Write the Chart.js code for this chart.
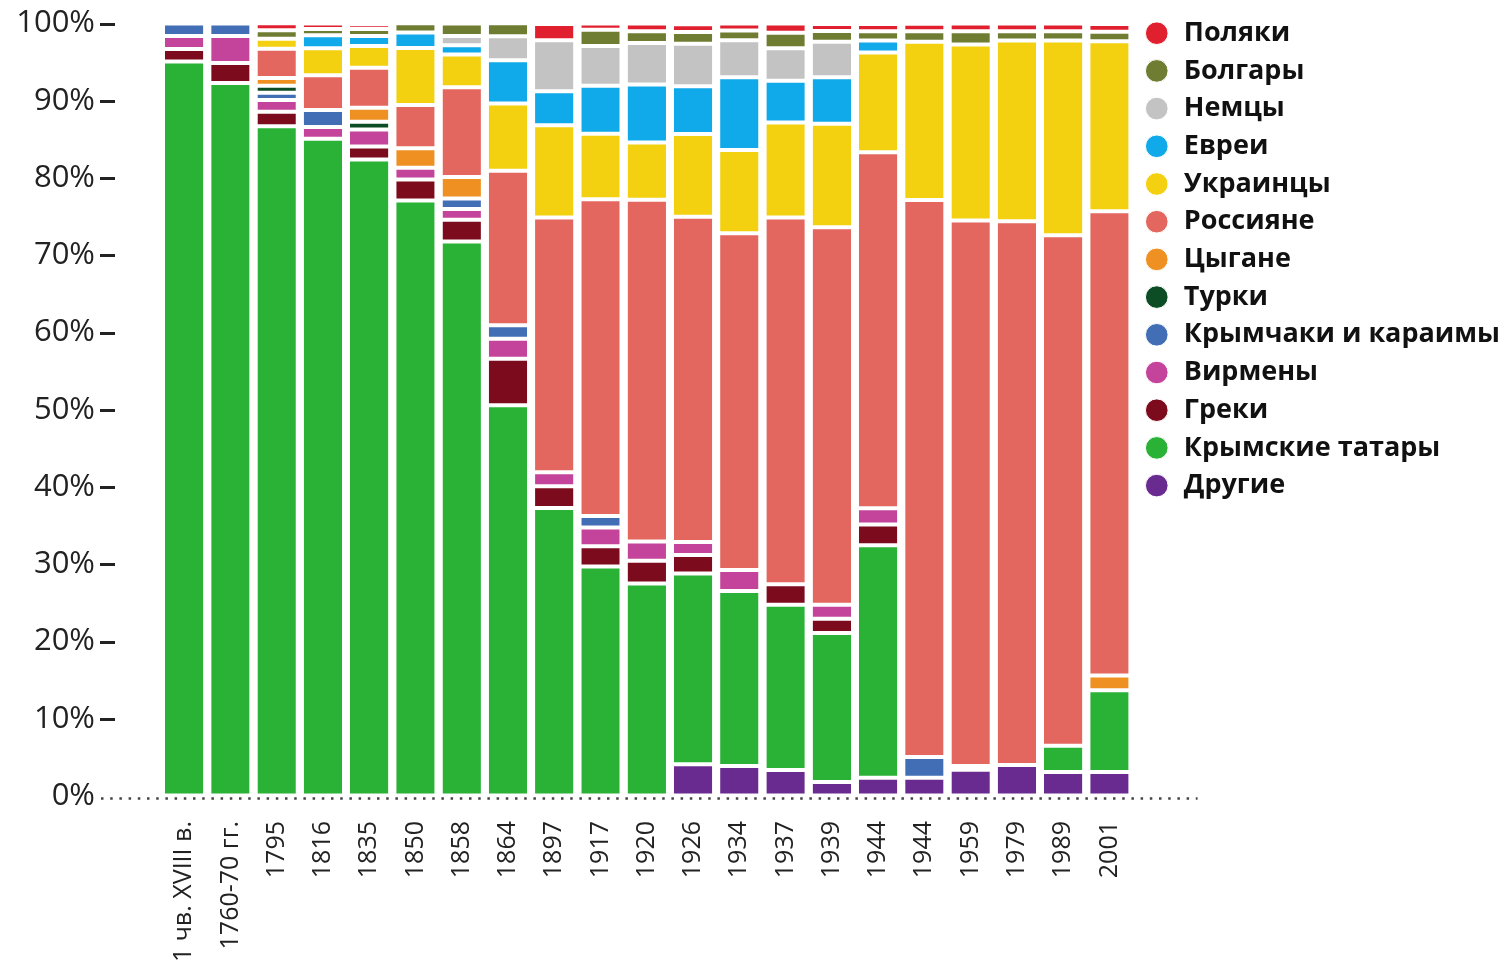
<!DOCTYPE html>
<html lang="ru">
<head>
  <meta charset="UTF-8" />
  <title>Национальный состав Крыма</title>
  <script src="https://cdn.jsdelivr.net/npm/chart.js"></script>
  <style>
    body { margin: 0; background: #fff; }
    canvas { display: block; }
  </style>
</head>
<body>
  <canvas id="chart" width="1510" height="975"></canvas>

  <script>
    const periods = ["1 чв. XVIII в.", "1760-70 гг.", "1795", "1816", "1835", "1850", "1858", "1864", "1897", "1917",
                     "1920", "1926", "1934", "1937", "1939", "1944", "1944", "1959", "1979", "1989", "2001"];
    const yTicks = [0, 10, 20, 30, 40, 50, 60, 70, 80, 90, 100];

    // доли, % (снизу вверх по столбцу)
    const others        = [0, 0, 0, 0, 0, 0, 0, 0, 0, 0, 0, 4.1, 3.9, 3.35, 1.8, 2.35, 2.35, 3.4, 4.0, 3.1, 3.1];
    const crimeanTatars = [95.1, 92.3, 86.7, 85.1, 82.4, 77.1, 71.8, 50.6, 37.3, 29.7, 27.5, 24.7, 22.65, 21.4, 19.3, 30.1, 0, 0.5, 0, 3.4, 10.6];
    const greeks        = [1.6, 2.6, 1.9, 0, 1.7, 2.7, 2.8, 6.0, 2.8, 2.65, 2.95, 2.4, 0, 2.65, 1.85, 2.7, 0, 0, 0, 0, 0];
    const armenians     = [1.7, 3.5, 1.5, 1.5, 2.2, 1.55, 1.4, 2.6, 1.8, 2.4, 2.5, 1.7, 2.7, 0, 1.8, 2.1, 0, 0, 0, 0, 0];
    const krymchaks     = [1.6, 1.6, 0.95, 2.2, 0, 0, 1.35, 1.75, 0, 1.5, 0, 0, 0, 0, 0, 0, 2.7, 0, 0, 0, 0];
    const turks         = [0, 0, 0.9, 0, 1.0, 0, 0, 0, 0, 0, 0, 0, 0, 0, 0, 0, 0, 0, 0, 0, 0];
    const roma          = [0, 0, 1.0, 0, 1.8, 2.5, 2.8, 0, 0, 0, 0, 0, 0, 0, 0, 0, 0, 0, 0, 0, 1.9];
    const russians      = [0, 0, 3.8, 4.5, 5.2, 5.6, 11.6, 20.0, 33.0, 41.0, 44.25, 42.1, 43.6, 47.5, 48.9, 46.1, 72.1, 70.6, 70.4, 66.1, 60.1];
    const ukrainians    = [0, 0, 1.3, 3.5, 2.8, 7.4, 4.25, 8.7, 11.95, 8.5, 7.4, 10.7, 10.8, 12.3, 13.4, 12.9, 20.5, 22.8, 23.4, 25.2, 22.0];
    const jews          = [0, 0, 0, 1.7, 1.3, 2.0, 1.2, 5.6, 4.4, 6.2, 7.5, 6.2, 9.4, 5.4, 6.0, 1.55, 0, 0, 0, 0, 0];
    const germans       = [0, 0, 0, 0, 0, 0, 1.2, 3.1, 6.6, 5.15, 5.4, 5.5, 4.8, 4.2, 4.6, 0, 0, 0, 0, 0, 0];
    const bulgarians    = [0, 0, 1.1, 0.8, 0.9, 1.2, 1.6, 1.7, 0, 2.1, 1.5, 1.5, 1.25, 2.0, 1.4, 1.2, 1.35, 1.7, 1.2, 1.2, 1.25];
    const poles         = [0, 0, 0.9, 0.7, 0.6, 0, 0, 0, 2.1, 0.8, 1.0, 1.0, 0.9, 1.2, 0.9, 0.95, 0.97, 1.0, 1.0, 1.0, 1.0];

    const series = [
      ["Другие", others, "#6a2b91"],
      ["Крымские татары", crimeanTatars, "#29b236"],
      ["Греки", greeks, "#7c0b1d"],
      ["Вирмены", armenians, "#c5449b"],
      ["Крымчаки и караимы", krymchaks, "#416eb5"],
      ["Турки", turks, "#0c4d25"],
      ["Цыгане", roma, "#ef9022"],
      ["Россияне", russians, "#e4675f"],
      ["Украинцы", ukrainians, "#f3d111"],
      ["Евреи", jews, "#10a9e9"],
      ["Немцы", germans, "#c3c3c3"],
      ["Болгары", bulgarians, "#6f7d33"],
      ["Поляки", poles, "#e0202e"]
    ];

    // черточки у оси Y и пунктир по нулю
    const axisMarks = {
      id: "axisMarks",
      afterDraw(chart) {
        const { ctx, chartArea, scales: { y } } = chart;
        ctx.save();
        ctx.strokeStyle = "#222";
        ctx.lineWidth = 3;
        yTicks.forEach(v => {
          if (v === 0) return;
          const py = Math.round(y.getPixelForValue(v)) + 0.5;
          ctx.beginPath();
          ctx.moveTo(chartArea.left - 61, py);
          ctx.lineTo(chartArea.left - 46, py);
          ctx.stroke();
        });
        const p0 = y.getPixelForValue(0) + 2.5;
        ctx.setLineDash([2.5, 6.7]);
        ctx.lineWidth = 2.5;
        ctx.strokeStyle = "#444";
        ctx.beginPath();
        ctx.moveTo(chartArea.left - 60, p0);
        ctx.lineTo(chartArea.right + 65, p0);
        ctx.stroke();
        ctx.restore();
      }
    };

    new Chart(document.getElementById("chart"), {
      type: "bar",
      data: {
        labels: periods,
        datasets: series.map(([name, values, color]) => ({
          label: name,
          data: values,
          backgroundColor: color,
          borderColor: "#fff",
          borderWidth: { top: 2, bottom: 2, left: 0, right: 0 },
          borderSkipped: false,
          categoryPercentage: 1,
          barPercentage: 0.83
        }))
      },
      options: {
        responsive: false,
        animation: false,
        layout: { padding: { top: 9 } },
        scales: {
          x: {
            stacked: true,
            grid: { display: true, drawOnChartArea: false, drawTicks: true, tickLength: 21, tickColor: "transparent" },
            border: { display: false },
            ticks: {
              autoSkip: false, minRotation: 90, maxRotation: 90, padding: 4,
              color: "#222", font: { family: "Open Sans", size: 25 }
            },
            afterFit(s) { s.height = 179; }
          },
          y: {
            stacked: true,
            min: 0,
            max: 100,
            grid: { display: true, drawOnChartArea: false, drawTicks: true, tickLength: 61, tickColor: "transparent" },
            border: { display: false },
            ticks: {
              padding: 5, color: "#222",
              font: { family: "Open Sans", size: 31 },
              callback: v => v + "%"
            },
            afterBuildTicks(s) { s.ticks = yTicks.map(v => ({ value: v })); },
            afterFit(s) { s.width = 161; }
          }
        },
        plugins: {
          legend: {
            position: "right",
            align: "start",
            reverse: true,
            maxWidth: 420,
            labels: {
              usePointStyle: true,
              pointStyle: "circle",
              boxHeight: 16,
              padding: 10.7,
              color: "#111",
              font: { family: "Open Sans", size: 27, weight: 700 }
            }
          },
          tooltip: { mode: "index" }
        }
      },
      plugins: [axisMarks]
    });
  </script>
</body>
</html>
